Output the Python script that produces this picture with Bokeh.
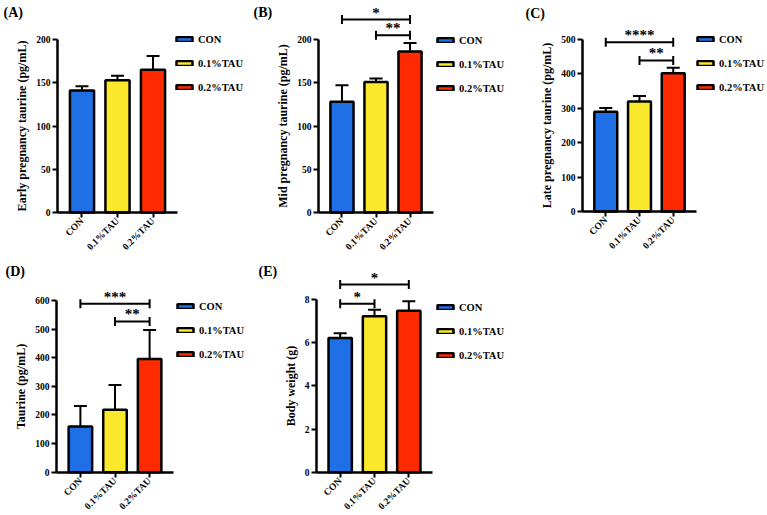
import math

from bokeh.embed import file_html
from bokeh.layouts import column, row
from bokeh.models import (ColumnDataSource, FixedTicker, Label, LabelSet, Legend,
                          LegendItem, Range1d, TeeHead, Whisker)
from bokeh.plotting import figure
from bokeh.resources import INLINE

# ---- data -------------------------------------------------------------
groups = ["CON", "0.1%TAU", "0.2%TAU"]
colors = ["#1f6fe6", "#fbe82a", "#ff2a00"]

early_mean = [141, 153, 165]
early_sd = [5, 5, 16]

mid_mean = [128, 151, 186]
mid_sd = [19, 4, 10]

late_mean = [290, 320, 402]
late_sd = [11, 16, 16]

taurine_mean = [160, 218, 396]
taurine_sd = [71, 87, 101]

weight_mean = [6.22, 7.22, 7.48]
weight_sd = [0.22, 0.30, 0.44]

# pairwise comparisons: (group a, group b, bracket height, stars)
mid_sig = [(0, 2, 223, "*"), (1, 2, 205, "**")]
late_sig = [(0, 2, 492, "****"), (1, 2, 439, "**")]
taurine_sig = [(0, 2, 589, "***"), (1, 2, 527, "**")]
weight_sig = [(0, 1, 7.8, "*"), (0, 2, 8.69, "*")]

FONT = "Liberation Serif, Times New Roman, serif"
X0, X1 = -0.69, 2.69          # extent of the category axis
LEG_ITEM_H, LEG_SPACING = 20, 4


def panel(tag, tag_pos, ylabel, means, sds, ymax, yticks, sig,
          width, height, box, leg_pos):
    """box = (axis left px, axis right px, zero px, top px) on the canvas."""
    xl, xr, y0, yt = box
    sx = (xr - xl) / (X1 - X0)
    sy = (y0 - yt) / ymax

    def dx(px):
        return X0 + (px - xl) / sx

    def dy(py):
        return (y0 - py) / sy

    # the plotting area fills the canvas; axes sit at fixed positions inside it
    p = figure(width=width, height=height,
               x_range=Range1d(dx(0), dx(width)), y_range=Range1d(dy(height), dy(0)),
               output_backend="svg", toolbar_location=None,
               min_border=0)
    p.outline_line_color = None
    p.grid.visible = False

    xs = list(range(len(groups)))
    src = ColumnDataSource(dict(
        x=xs, top=means, upper=[m + s for m, s in zip(means, sds)],
        color=colors, label=groups))

    # SD bars (upper half only), drawn below the bars
    p.add_layout(Whisker(source=src, base="x", lower="top", upper="upper",
                         dimension="height", line_color="black", line_width=2,
                         lower_head=None,
                         upper_head=TeeHead(size=13, line_width=2, line_color="black"),
                         level="underlay"))

    bars = p.vbar(x="x", top="top", width=0.68, source=src,
                  fill_color="color", line_color="black", line_width=2.5)

    # axes
    for ax in (p.xaxis[0], p.yaxis[0]):
        ax.axis_line_width = 2.5
        ax.axis_line_color = "black"
        ax.major_tick_line_width = 2
        ax.major_tick_line_color = "black"
        ax.major_tick_out = 5
        ax.major_tick_in = 0
        ax.minor_tick_line_color = None
        ax.major_label_text_font = FONT
        ax.major_label_text_font_style = "bold"
        ax.major_label_text_font_size = "9.5px"
        ax.major_label_text_color = "black"
        ax.major_label_standoff = 2

    p.xaxis.fixed_location = 0
    p.xaxis.bounds = (X0, X1)
    p.xaxis.ticker = FixedTicker(ticks=xs)
    p.xaxis.major_label_overrides = {i: g for i, g in enumerate(groups)}
    p.xaxis.major_label_orientation = math.pi / 4

    p.yaxis.fixed_location = X0
    p.yaxis.bounds = (0, ymax)
    p.yaxis.ticker = FixedTicker(ticks=yticks)
    p.yaxis.axis_label = ylabel
    p.yaxis.axis_label_text_font = FONT
    p.yaxis.axis_label_text_font_style = "bold"
    p.yaxis.axis_label_text_font_size = "12px"
    p.yaxis.axis_label_text_color = "black"
    p.yaxis.axis_label_standoff = 4

    # legend to the right of the bars
    n = len(groups)
    leg_h = n * LEG_ITEM_H + (n - 1) * LEG_SPACING
    lx, ly = leg_pos
    legend = Legend(items=[LegendItem(label=g, renderers=[bars], index=i)
                           for i, g in enumerate(groups)],
                    location=(lx, height - ly - leg_h),
                    margin=0, padding=0, spacing=LEG_SPACING,
                    glyph_width=20, glyph_height=6, label_height=LEG_ITEM_H,
                    label_standoff=4, border_line_color=None,
                    background_fill_alpha=0,
                    label_text_font=FONT, label_text_font_style="bold",
                    label_text_font_size="10.5px", label_text_color="black")
    p.add_layout(legend, "center")

    # significance brackets
    if sig:
        a = [s[0] for s in sig]
        b = [s[1] for s in sig]
        h = [s[2] for s in sig]
        sig_src = ColumnDataSource(dict(
            x0=a, x1=b, y=h, xm=[(i + j) / 2 for i, j in zip(a, b)],
            stars=[s[3] for s in sig]))
        p.add_layout(Whisker(source=sig_src, base="y", lower="x0", upper="x1",
                             dimension="width", line_color="black", line_width=2,
                             lower_head=TeeHead(size=9, line_width=2, line_color="black"),
                             upper_head=TeeHead(size=9, line_width=2, line_color="black")))
        p.add_layout(LabelSet(source=sig_src, x="xm", y="y", text="stars",
                              text_align="center", text_baseline="alphabetic",
                              y_offset=2, text_font=FONT, text_font_style="bold",
                              text_font_size="15px", text_color="black"))

    # panel letter in the top-left corner
    px, py = tag_pos
    p.add_layout(Label(x=dx(px), y=dy(py), text=tag, text_align="left",
                       text_baseline="top", text_font=FONT,
                       text_font_style="bold", text_font_size="14px",
                       text_color="black"))
    return p


pa = panel("(A)", (3, 4), "Early pregnancy taurine (pg/mL)", early_mean, early_sd,
           200, [0, 50, 100, 150, 200], None, 250, 258,
           (57, 177, 212, 39), (174, 29))
pb = panel("(B)", (3, 4), "Mid pregnancy taurine (pg/mL)", mid_mean, mid_sd,
           200, [0, 50, 100, 150, 200], mid_sig, 256, 258,
           (68, 183, 212, 39), (185, 30))
pc = panel("(C)", (19, 5), "Late pregnancy taurine (pg/mL)", late_mean, late_sd,
           500, [0, 100, 200, 300, 400, 500], late_sig, 261, 258,
           (76, 190, 211, 39), (189, 29))
pd_ = panel("(D)", (5, 5), "Taurine (pg/mL)", taurine_mean, taurine_sd,
            600, [0, 100, 200, 300, 400, 500, 600], taurine_sig, 250, 257,
            (56, 173, 213.7, 42), (175, 38))
pe = panel("(E)", (8, 5), "Body weight (g)", weight_mean, weight_sd,
           8, [0, 2, 4, 6, 8], weight_sig, 256, 257,
           (66, 182, 213.7, 41), (185, 39))

layout = column(row(pa, pb, pc), row(pd_, pe))

with open("out.html", "w") as f:
    f.write(file_html(layout, INLINE))
